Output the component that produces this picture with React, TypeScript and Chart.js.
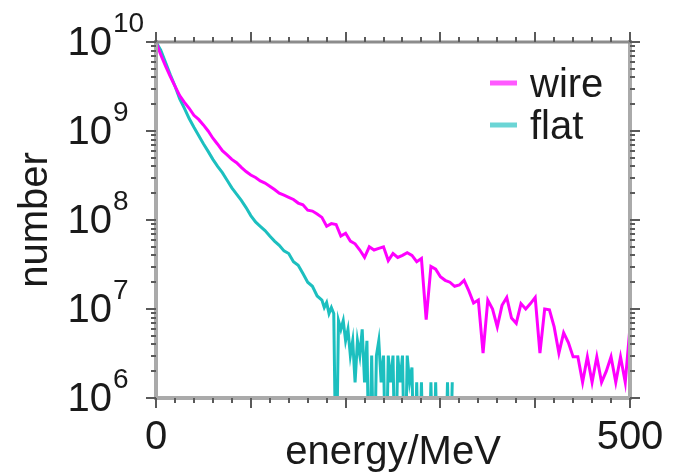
import { useEffect, useRef } from 'react';
import { Chart, registerables } from 'chart.js';

Chart.register(...registerables);

const FONT = '"Liberation Sans", Arial, Helvetica, sans-serif';

const seriesLabels = ['wire', 'flat'];
const seriesColors = ['#ff00ff', '#1cbfbf'];

// empty bins are stored as a value below the axis floor (off the log scale)
const EMPTY = 1e5;

const wireEnergy = [
  0, 5, 10, 15, 20, 25, 30, 35, 40, 45, 50, 55, 60, 65, 70, 75, 80, 85, 90, 95,
  100, 105, 110, 115, 120, 125, 130, 135, 140, 145, 150, 155, 160, 165, 170, 175, 180, 185, 190, 195,
  200, 205, 210, 215, 220, 225, 230, 235, 240, 245, 250, 255, 260, 265, 270, 275, 280, 285, 290, 295,
  300, 305, 310, 315, 320, 325, 330, 335, 340, 345, 350, 355, 360, 365, 370, 375, 380, 385, 390, 395,
  400, 405, 410, 415, 420, 425, 430, 435, 440, 445, 450, 455, 460, 465, 470, 475, 480, 485, 490, 495, 500,
];
const wireNumber = [
  1.0e10, 7.2e9, 5.4e9, 4.1e9, 3.2e9, 2.5e9, 2.1e9, 1.8e9, 1.5e9, 1.35e9,
  1.17e9, 1.0e9, 8.3e8, 7.1e8, 6.0e8, 5.4e8, 4.8e8, 4.4e8, 3.9e8, 3.5e8,
  3.2e8, 3.0e8, 2.75e8, 2.6e8, 2.4e8, 2.2e8, 2.0e8, 1.9e8, 1.8e8, 1.7e8,
  1.55e8, 1.48e8, 1.29e8, 1.26e8, 1.17e8, 1.07e8, 8.5e7, 9.1e7, 8.9e7, 6.6e7,
  7.1e7, 5.8e7, 5.4e7, 4.6e7, 3.8e7, 5.0e7, 4.6e7, 4.8e7, 5.0e7, 3.5e7,
  4.2e7, 3.8e7, 4.0e7, 4.3e7, 4.0e7, 3.4e7, 3.7e7, 7.6e6, 3.0e7, 2.8e7,
  2.3e7, 2.1e7, 2.0e7, 1.8e7, 1.86e7, 2.1e7, 1.6e7, 1.17e7, 1.26e7, 3.2e6,
  1.26e7, 1.0e7, 6.3e6, 1.1e7, 1.35e7, 7.9e6, 6.9e6, 1.15e7, 1.0e7, 1.15e7,
  1.35e7, 3.2e6, 1.0e7, 9.8e6, 6.3e6, 3.2e6, 5.4e6, 4.2e6, 2.9e6, 2.9e6,
  1.5e6, 2.9e6, 1.5e6, 2.9e6, 1.5e6, 2.0e6, 2.9e6, 1.5e6, 2.9e6, 1.5e6, 6.3e6,
];

const flatEnergy = [
  0, 5, 10, 15, 20, 25, 30, 35, 40, 45, 50, 55, 60, 65, 70, 75, 80, 85, 90, 95,
  100, 105, 110, 115, 120, 125, 130, 135, 140, 145, 150, 155, 160, 165, 170, 175,
  177.5, 180, 182.5, 185, 187.5, 190, 192.5, 195, 197.5, 200, 202.5, 205, 207.5, 210,
  212.5, 215, 217.5, 220, 222.5, 225, 227.5, 230, 232.5, 235, 237.5, 240, 242.5, 245,
  247.5, 250, 252.5, 255, 257.5, 260, 262.5, 265, 267.5, 270, 272.5, 275, 277.5, 280,
  282.5, 285, 287.5, 290, 292.5, 295, 297.5, 300, 302.5, 305, 307.5, 310, 312.5,
];
const flatNumber = [
  1.0e10, 8.1e9, 5.9e9, 4.3e9, 3.2e9, 2.3e9, 1.8e9, 1.38e9, 1.1e9, 8.9e8,
  7.2e8, 5.9e8, 4.8e8, 4.0e8, 3.4e8, 2.8e8, 2.3e8, 1.95e8, 1.66e8, 1.38e8,
  1.12e8, 9.5e7, 8.5e7, 7.6e7, 6.6e7, 5.8e7, 5.2e7, 4.5e7, 4.2e7, 3.4e7,
  3.1e7, 2.5e7, 2.0e7, 1.8e7, 1.4e7, 1.26e7,
  1.04e7, 1.18e7, 8.9e6, 1.04e7, 8.9e6, EMPTY, 7.4e6, 5.9e6, 7.4e6, 4.4e6,
  5.9e6, 3.0e6, 4.4e6, 1.5e6, 4.4e6, 3.0e6, 5.9e6, 1.5e6, 4.4e6, EMPTY,
  3.0e6, EMPTY, 3.0e6, 4.4e6, 1.5e6, 3.0e6, EMPTY, 3.0e6, 1.5e6, 3.0e6,
  EMPTY, 3.0e6, 1.5e6, 3.0e6, EMPTY, 3.0e6, 1.5e6, 2.2e6, EMPTY, 1.5e6,
  EMPTY, 1.5e6, EMPTY, EMPTY, EMPTY, 1.5e6, EMPTY, 1.5e6, EMPTY, EMPTY,
  EMPTY, EMPTY, 1.5e6, EMPTY, 1.5e6, EMPTY, EMPTY,
];

const xTickValues = [0, 500];
const xTickLabels = ['0', '500'];
const xMinorStep = 20;
const yDecades = [6, 7, 8, 9, 10];

const decorPlugin = {
  id: 'decor',
  afterDatasetsDraw(chart: any) {
    const { ctx, chartArea: a, scales } = chart;
    const x = scales.x;
    const y = scales.y;
    ctx.save();
    // frame
    ctx.strokeStyle = '#aaaaaa';
    ctx.lineWidth = 4;
    ctx.beginPath();
    ctx.moveTo(a.left, a.bottom);
    ctx.lineTo(a.right, a.bottom);
    ctx.moveTo(a.right, a.bottom + 2);
    ctx.lineTo(a.right, a.top - 2);
    ctx.moveTo(a.left, a.top - 2);
    ctx.lineTo(a.left, a.bottom + 2);
    ctx.stroke();
    ctx.strokeStyle = '#8c8c8c';
    ctx.lineWidth = 3;
    ctx.beginPath();
    ctx.moveTo(a.left - 2, a.top);
    ctx.lineTo(a.right + 2, a.top);
    ctx.stroke();

    // ticks
    ctx.strokeStyle = '#5a5a5a';
    ctx.lineWidth = 2;
    ctx.beginPath();
    for (let v = x.min; v <= x.max; v += xMinorStep) {
      const px = Math.round(x.getPixelForValue(v));
      const len = v % 100 === 0 ? 10 : 5;
      ctx.moveTo(px, a.bottom);
      ctx.lineTo(px, a.bottom + len);
      ctx.moveTo(px, a.top);
      ctx.lineTo(px, a.top - len);
    }
    yDecades.forEach((d) => {
      for (let m = 1; m <= 9; m++) {
        if (d === yDecades[yDecades.length - 1] && m > 1) break;
        const py = Math.round(y.getPixelForValue(m * Math.pow(10, d)));
        const len = m === 1 ? 10 : 5;
        ctx.moveTo(a.left, py);
        ctx.lineTo(a.left - len, py);
        ctx.moveTo(a.right, py);
        ctx.lineTo(a.right + len, py);
      }
    });
    ctx.stroke();

    // y tick labels 10^d
    ctx.fillStyle = '#1a1a1a';
    yDecades.forEach((d) => {
      const py = y.getPixelForValue(Math.pow(10, d));
      ctx.font = `40px ${FONT}`;
      ctx.textAlign = 'right';
      ctx.textBaseline = 'alphabetic';
      ctx.fillText('10', 112, py + 13);
      ctx.font = `28px ${FONT}`;
      ctx.textAlign = 'left';
      ctx.fillText(String(d), 113, py - 10);
    });

    // x tick labels
    ctx.font = `40px ${FONT}`;
    ctx.textAlign = 'center';
    ctx.textBaseline = 'alphabetic';
    xTickValues.forEach((v, i) => {
      ctx.fillText(xTickLabels[i], x.getPixelForValue(v), 449);
    });

    // legend
    chart.data.datasets.forEach((ds: any, i: number) => {
      const rowY = 83 + i * 42;
      ctx.globalAlpha = 0.65;
      ctx.strokeStyle = ds.borderColor;
      ctx.lineWidth = 5;
      ctx.beginPath();
      ctx.moveTo(490, rowY);
      ctx.lineTo(517, rowY);
      ctx.stroke();
      ctx.globalAlpha = 1;
      ctx.fillStyle = '#1a1a1a';
      ctx.font = `40px ${FONT}`;
      ctx.textAlign = 'left';
      ctx.textBaseline = 'alphabetic';
      ctx.fillText(ds.label, 530, rowY + 14);
    });
    ctx.restore();
  },
};

export default function App() {
  const ref = useRef<HTMLCanvasElement | null>(null);
  useEffect(() => {
    document.body.style.margin = '0';
    const canvas = ref.current;
    if (!canvas) return;
    const chart = new Chart(canvas, {
      type: 'line',
      data: {
        datasets: [
          {
            label: seriesLabels[0],
            data: wireEnergy.map((e, i) => ({ x: e, y: wireNumber[i] })),
            borderColor: seriesColors[0],
            backgroundColor: seriesColors[0],
            borderWidth: 3,
            pointRadius: 0,
            tension: 0,
            fill: false,
          },
          {
            label: seriesLabels[1],
            data: flatEnergy.map((e, i) => ({ x: e, y: flatNumber[i] })),
            borderColor: seriesColors[1],
            backgroundColor: seriesColors[1],
            borderWidth: 3,
            pointRadius: 0,
            tension: 0,
            fill: false,
          },
        ],
      },
      options: {
        animation: false,
        responsive: false,
        devicePixelRatio: 1,
        layout: { padding: { left: 0, top: 42, right: 46, bottom: 0 } },
        plugins: { legend: { display: false }, tooltip: { enabled: false } },
        scales: {
          x: {
            type: 'linear',
            min: 0,
            max: 500,
            grid: { display: false },
            border: { display: false },
            ticks: { display: false },
            title: {
              display: true,
              text: 'energy/MeV',
              color: '#1a1a1a',
              font: { family: FONT, size: 40, lineHeight: 1.05 },
              padding: { top: 0, bottom: 0 },
            },
            afterFit: (s: any) => {
              s.height = 76;
            },
          },
          y: {
            type: 'logarithmic',
            min: 1e6,
            max: 1e10,
            grid: { display: false },
            border: { display: false },
            ticks: { display: false },
            title: {
              display: true,
              text: 'number',
              color: '#1a1a1a',
              font: { family: FONT, size: 40, lineHeight: 1.1 },
              padding: { top: 14, bottom: 0 },
            },
            afterFit: (s: any) => {
              s.width = 156;
            },
          },
        },
      } as any,
      plugins: [decorPlugin],
    });
    return () => chart.destroy();
  }, []);
  return (
    <div style={{ width: 676, height: 474 }}>
      <canvas ref={ref} width={676} height={474} style={{ display: 'block' }} />
    </div>
  );
}
